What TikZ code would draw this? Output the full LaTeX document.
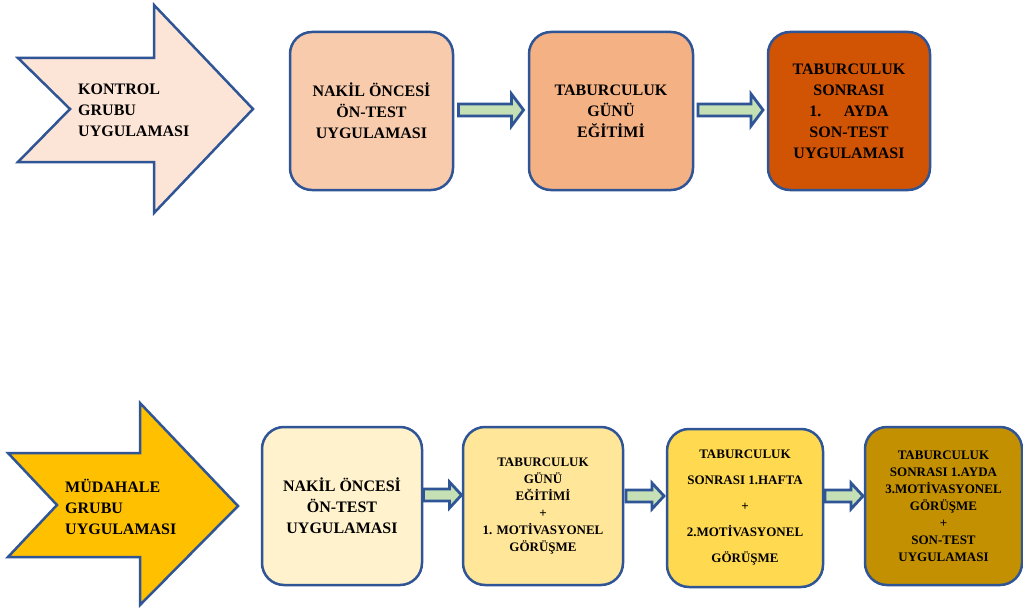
\documentclass[tikz,border=0pt]{standalone}
\usepackage{fontspec}
\setmainfont{Liberation Serif}
\usetikzlibrary{calc}
\definecolor{bord}{RGB}{47,85,151}
\definecolor{peach}{RGB}{252,228,214}
\definecolor{tbA}{RGB}{248,203,173}
\definecolor{tbB}{RGB}{244,177,131}
\definecolor{tbC}{RGB}{208,84,4}
\definecolor{grn}{RGB}{197,224,180}
\definecolor{gold}{RGB}{255,192,0}
\definecolor{bbA}{RGB}{255,242,204}
\definecolor{bbB}{RGB}{255,230,153}
\definecolor{bbC}{RGB}{255,217,80}
\definecolor{bbD}{RGB}{194,144,0}
\tikzset{
  bigarrow/.style={draw=bord, line width=2.5pt, line join=miter},
  arrowtext/.style={anchor=west, inner sep=0pt, align=left, font=\fontsize{16}{21}\selectfont\bfseries},
  box/.style={draw=bord, line width=2.5pt, rounded corners=22pt, minimum height=158pt, inner sep=0pt, align=center},
  bigtext/.style={font=\fontsize{16}{21}\selectfont\bfseries},
  smalltext/.style={font=\fontsize{13}{17}\selectfont\bfseries},
  smallarr/.style={draw=bord, line width=2.8pt, fill=grn, line join=miter},
  pics/blockarr/.style n args={4}{code={%
    \draw[smallarr] (-#1,-#2) -- ({#1-#4},-#2) -- ({#1-#4},-#3) -- (#1,0) -- ({#1-#4},#3) -- ({#1-#4},#2) -- (-#1,#2) -- cycle;}},
}
\begin{document}
\begin{tikzpicture}[x=1pt,y=-1pt]
\useasboundingbox[fill=white] (0,0) rectangle (1023,610);

% top group arrow
\draw[bigarrow, fill=peach] (18,58) -- (154,58) -- (154,5) -- (253,109) -- (154,213) -- (154,162) -- (18,162) -- (70,109) -- cycle;
\node[arrowtext] (kg) at (78,110) {KONTROL\\GRUBU\\UYGULAMASI};

% bottom group arrow
\draw[bigarrow, fill=gold] (8,453) -- (140,453) -- (140,403) -- (238,506) -- (140,605) -- (140,557) -- (8,557) -- (57,505) -- cycle;
\node[arrowtext] (mg) at (65,507) {MÜDAHALE\\GRUBU\\UYGULAMASI};

% top boxes
\node[box, bigtext, fill=tbA, minimum width=163pt] (t1) at (371.5,111) {NAKİL ÖNCESİ\\ÖN-TEST\\UYGULAMASI};
\node[box, bigtext, fill=tbB, minimum width=164pt] (t2) at (611,111) {TABURCULUK\\GÜNÜ\\EĞİTİMİ};
\node[box, bigtext, fill=tbC, minimum width=162pt] (t3) at (849,111) {TABURCULUK\\SONRASI\\1.\hspace{1.4em}AYDA\\SON-TEST\\UYGULAMASI};

% bottom boxes
\node[box, bigtext, fill=bbA, minimum width=160pt] (b1) at (342,506) {NAKİL ÖNCESİ\\ÖN-TEST\\UYGULAMASI};
\node[box, smalltext, fill=bbB, minimum width=160pt] (b2) at (543,506) {TABURCULUK\\GÜNÜ\\EĞİTİMİ\\+\\1. MOTİVASYONEL\\GÖRÜŞME};
\node[box, fill=bbC, minimum width=156pt, font=\fontsize{13}{26}\selectfont\bfseries] (b3) at (745,508) {TABURCULUK\\SONRASI 1.HAFTA\\+\\2.MOTİVASYONEL\\GÖRÜŞME};
\node[box, smalltext, fill=bbD, minimum width=157pt] (b4) at (943.5,506) {TABURCULUK\\SONRASI 1.AYDA\\3.MOTİVASYONEL\\GÖRÜŞME\\+\\SON-TEST\\UYGULAMASI};

% connectors
\path (t1.east) -- (t2.west) coordinate[midway] (m1);
\path (t2.east) -- (t3.west) coordinate[midway] (m2);
\pic at ($(m1)+(0,-1)$) {blockarr={32.5}{6}{16}{12}};
\pic at ($(m2)+(0,-1)$) {blockarr={32.5}{6}{16}{12}};
\path (b1.east) -- (b2.west) coordinate[midway] (m3);
\path (b2.east) -- (b3.west) coordinate[midway] (m4);
\path (b3.east) -- (b4.west) coordinate[midway] (m5);
\pic at ($(m3)+(0,-11)$) {blockarr={19}{6}{13}{12}};
\pic at ($(m4)+(0,-11)$) {blockarr={19}{6}{13}{12}};
\pic at ($(m5)+(0,-11)$) {blockarr={19}{6}{13}{12}};
\end{tikzpicture}
\end{document}
